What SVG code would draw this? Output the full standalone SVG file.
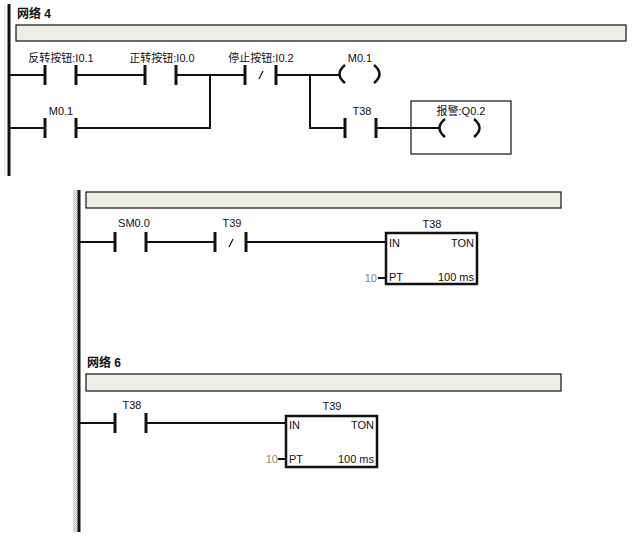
<svg xmlns="http://www.w3.org/2000/svg" width="632" height="540" viewBox="0 0 632 540">
<style>
.w{stroke:#111;stroke-width:2;fill:none}
.c{stroke:#111;stroke-width:3;fill:none}
.rail{stroke:#111;stroke-width:3;fill:none}
.coil{stroke:#111;stroke-width:2.5;fill:none}
.slash{stroke:#111;stroke-width:1.2}
.bar{fill:#efeee5;stroke:#111;stroke-width:1.2}
.box{fill:#fff;stroke:#111;stroke-width:2.5}
.t{font-family:"Liberation Sans","Noto Sans CJK SC",sans-serif;font-size:11px;fill:#111}
.h{font-family:"Liberation Sans","Noto Sans CJK SC",sans-serif;font-size:12px;font-weight:bold;fill:#111}
.g{font-family:"Liberation Sans",sans-serif;font-size:11px;fill:#8a8a72}
.m{text-anchor:middle}
.e{text-anchor:end}
</style>
<defs>
<pattern id="dots" width="2" height="2" patternUnits="userSpaceOnUse">
<rect width="2" height="2" fill="#e4e4e4"/>
<rect width="1" height="1" fill="#c4c4c4"/><rect x="1" y="1" width="1" height="1" fill="#c4c4c4"/>
</pattern>
</defs>
<rect width="632" height="540" fill="#fff"/>

<g id="rails">
<line x1="5" y1="5" x2="5" y2="175" stroke="#dcdcdc" stroke-width="1"/>
<line class="rail" x1="9" y1="4" x2="9" y2="176"/>
<rect x="73" y="190" width="5" height="342" fill="url(#dots)"/>
<line class="rail" x1="79" y1="190" x2="79" y2="532"/>
</g>

<g id="network4">
<text class="h" x="17" y="18">网络 4</text>
<rect class="bar" x="16" y="25" width="610" height="16"/>
</g>
<g id="network5">
<rect class="bar" x="86" y="192" width="475" height="16"/>
</g>
<g id="network6">
<text class="h" x="87" y="367">网络 6</text>
<rect class="bar" x="86" y="374" width="475" height="17"/>
</g>

<g id="connectors">
<!-- network 4 -->
<polyline class="w" points="9,75 45,75"/>
<polyline class="w" points="76,75 145,75"/>
<polyline class="w" points="176,75 245,75"/>
<polyline class="w" points="276,75 339,75"/>
<polyline class="w" points="9,128 45,128"/>
<polyline class="w" points="76,128 210,128 210,75"/>
<polyline class="w" points="310,75 310,128 345,128"/>
<polyline class="w" points="376,128 439,128"/>
<!-- network 5 -->
<polyline class="w" points="79,242 115,242"/>
<polyline class="w" points="146,242 215,242"/>
<polyline class="w" points="246,242 386,242"/>
<polyline class="w" points="378,278 386,278"/>
<!-- network 6 -->
<polyline class="w" points="79,423 115,423"/>
<polyline class="w" points="146,423 286,423"/>
<polyline class="w" points="278,459 286,459"/>
</g>

<g id="c_I01">
<text class="t m" x="61" y="62">反转按钮:I0.1</text>
<line class="c" x1="45" y1="65" x2="45" y2="85"/>
<line class="c" x1="76" y1="65" x2="76" y2="85"/>
</g>
<g id="c_I00">
<text class="t m" x="162" y="62">正转按钮:I0.0</text>
<line class="c" x1="145" y1="65" x2="145" y2="85"/>
<line class="c" x1="176" y1="65" x2="176" y2="85"/>
</g>
<g id="c_I02">
<text class="t m" x="261" y="62">停止按钮:I0.2</text>
<line class="c" x1="245" y1="65" x2="245" y2="85"/>
<line class="c" x1="276" y1="65" x2="276" y2="85"/>
<line class="slash" x1="259" y1="79" x2="263" y2="71"/>
</g>
<g id="c_M01">
<text class="t m" x="61" y="115">M0.1</text>
<line class="c" x1="45" y1="118" x2="45" y2="138"/>
<line class="c" x1="76" y1="118" x2="76" y2="138"/>
</g>
<g id="coil_M01">
<text class="t m" x="360" y="62">M0.1</text>
<path class="coil" d="M345,65 Q334,74 345,83"/>
<path class="coil" d="M374,65 Q385,74 374,83"/>
</g>
<g id="c_T38a">
<text class="t m" x="362" y="115">T38</text>
<line class="c" x1="345" y1="118" x2="345" y2="138"/>
<line class="c" x1="376" y1="118" x2="376" y2="138"/>
</g>
<g id="coil_Q02">
<rect x="411" y="101" width="100" height="53" fill="none" stroke="#111" stroke-width="1.2"/>
<text class="t m" x="461" y="115">报警:Q0.2</text>
<path class="coil" d="M445,119 Q434,128 445,137"/>
<path class="coil" d="M474,119 Q485,128 474,137"/>
</g>

<g id="c_SM00">
<text class="t m" x="134" y="227">SM0.0</text>
<line class="c" x1="115" y1="232" x2="115" y2="252"/>
<line class="c" x1="146" y1="232" x2="146" y2="252"/>
</g>
<g id="c_T39">
<text class="t m" x="232" y="227">T39</text>
<line class="c" x1="215" y1="232" x2="215" y2="252"/>
<line class="c" x1="246" y1="232" x2="246" y2="252"/>
<line class="slash" x1="229" y1="247" x2="233" y2="239"/>
</g>
<g id="ton_T38">
<text class="t m" x="432" y="228">T38</text>
<rect class="box" x="386" y="233" width="91" height="51"/>
<text class="t" x="389" y="247">IN</text>
<text class="t e" x="474" y="247">TON</text>
<text class="t" x="389" y="281">PT</text>
<text class="t e" x="474" y="281">100 ms</text>
<text class="g e" x="377" y="282">10</text>
</g>

<g id="c_T38b">
<text class="t m" x="132" y="409">T38</text>
<line class="c" x1="115" y1="413" x2="115" y2="433"/>
<line class="c" x1="146" y1="413" x2="146" y2="433"/>
</g>
<g id="ton_T39">
<text class="t m" x="332" y="410">T39</text>
<rect class="box" x="286" y="416" width="91" height="51"/>
<text class="t" x="289" y="429">IN</text>
<text class="t e" x="374" y="429">TON</text>
<text class="t" x="289" y="463">PT</text>
<text class="t e" x="374" y="463">100 ms</text>
<text class="g e" x="278" y="463">10</text>
</g>
</svg>
